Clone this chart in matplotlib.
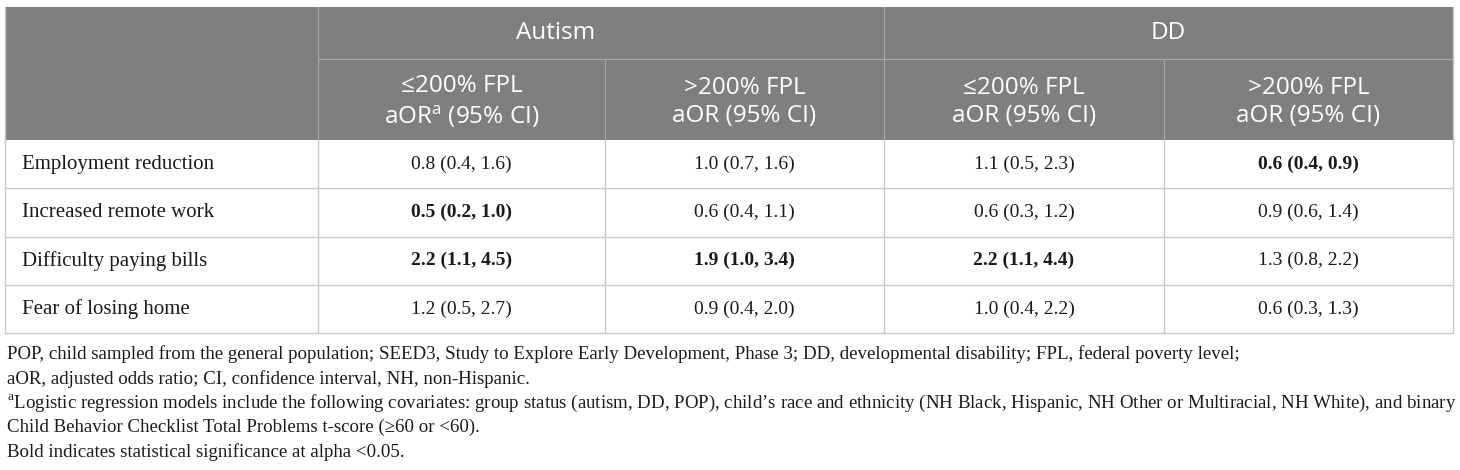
import matplotlib
matplotlib.use("Agg")
import matplotlib.pyplot as plt
from matplotlib.patches import Rectangle

plt.rcParams['mathtext.fontset'] = 'custom'
plt.rcParams['mathtext.rm'] = 'Open Sans'

groups = ["Autism", "DD"]
subheads = [r"≤200% FPL" + "\n" + r"aOR$^{\mathregular{a}}$ (95% CI)",
            ">200% FPL\naOR (95% CI)",
            "≤200% FPL\naOR (95% CI)",
            ">200% FPL\naOR (95% CI)"]
rows = ["Employment reduction", "Increased remote work",
        "Difficulty paying bills", "Fear of losing home"]
aut_low = ["0.8 (0.4, 1.6)", "0.5 (0.2, 1.0)", "2.2 (1.1, 4.5)", "1.2 (0.5, 2.7)"]
aut_high = ["1.0 (0.7, 1.6)", "0.6 (0.4, 1.1)", "1.9 (1.0, 3.4)", "0.9 (0.4, 2.0)"]
dd_low = ["1.1 (0.5, 2.3)", "0.6 (0.3, 1.2)", "2.2 (1.1, 4.4)", "1.0 (0.4, 2.2)"]
dd_high = ["0.6 (0.4, 0.9)", "0.9 (0.6, 1.4)", "1.3 (0.8, 2.2)", "0.6 (0.3, 1.3)"]
bold_aut_low = [False, True, True, False]
bold_aut_high = [False, False, True, False]
bold_dd_low = [False, False, True, False]
bold_dd_high = [True, False, False, False]
footnotes = [
    "POP, child sampled from the general population; SEED3, Study to Explore Early Development, Phase 3; DD, developmental disability; FPL, federal poverty level;",
    "aOR, adjusted odds ratio; CI, confidence interval, NH, non-Hispanic.",
    r"$^{\mathregular{a}}$Logistic regression models include the following covariates: group status (autism, DD, POP), child’s race and ethnicity (NH Black, Hispanic, NH Other or Multiracial, NH White), and binary",
    "Child Behavior Checklist Total Problems t-score (≥60 or <60).",
    "Bold indicates statistical significance at alpha <0.05.",
]

cols = [aut_low, aut_high, dd_low, dd_high]
bolds = [bold_aut_low, bold_aut_high, bold_dd_low, bold_dd_high]

W, H = 1460, 470
fig = plt.figure(figsize=(W / 100, H / 100), dpi=100)
ax = fig.add_axes([0, 0, 1, 1])
ax.set_xlim(0, W)
ax.set_ylim(H, 0)
ax.axis('off')

xs = [5, 318, 605, 884, 1164, 1453]
y_top, y_h1, y_h2 = 7, 59, 140
row_h = 48.3
y_rows = [y_h2 + i * row_h for i in range(len(rows) + 1)]

header_col = '#7f7f7f'
line_col = '#c8c8c8'
hline_col = '#a8a8a8'

ax.add_patch(Rectangle((xs[0], y_top), xs[-1] - xs[0], y_h2 - y_top,
                       facecolor=header_col, edgecolor='none', zorder=1))
# header lines
ax.plot([xs[1], xs[1]], [y_top, y_h2], color=hline_col, lw=0.8, zorder=2)
ax.plot([xs[3], xs[3]], [y_top, y_h2], color=hline_col, lw=0.8, zorder=2)
ax.plot([xs[2], xs[2]], [y_h1, y_h2], color=hline_col, lw=0.8, zorder=2)
ax.plot([xs[4], xs[4]], [y_h1, y_h2], color=hline_col, lw=0.8, zorder=2)
ax.plot([xs[1], xs[-1]], [y_h1, y_h1], color=hline_col, lw=0.8, zorder=2)

# body lines
for x in xs:
    ax.plot([x, x], [y_h2, y_rows[-1]], color=line_col, lw=1.0, zorder=2)
for y in y_rows[1:]:
    ax.plot([xs[0], xs[-1]], [y, y], color=line_col, lw=1.0, zorder=2)
ax.plot([xs[0], xs[0]], [y_top, y_h2], color=line_col, lw=1.0, zorder=2)
ax.plot([xs[-1], xs[-1]], [y_top, y_h2], color=line_col, lw=1.0, zorder=2)

hfont = dict(family='Open Sans', color='white', fontsize=17.5)
group_centers = [556, (xs[3] + xs[5]) / 2]
for g, cx in zip(groups, group_centers):
    ax.text(cx, 33, g, ha='center', va='center', **hfont)
for i, s in enumerate(subheads):
    ax.text((xs[i + 1] + xs[i + 2]) / 2, 102, s,
            ha='center', va='center', linespacing=1.25, **hfont)

bfont = dict(family='Liberation Serif', color='#1a1a1a')
for r, lab in enumerate(rows):
    yc = (y_rows[r] + y_rows[r + 1]) / 2
    ax.text(22, yc, lab, ha='left', va='center', fontsize=15, **bfont)
    for c in range(4):
        ax.text((xs[c + 1] + xs[c + 2]) / 2, yc, cols[c][r], ha='center', va='center',
                fontsize=14, fontweight='bold' if bolds[c][r] else 'normal', **bfont)

fy0, fdy = 354, 24.6
for k, t in enumerate(footnotes):
    ax.text(7, fy0 + k * fdy, t, ha='left', va='center', fontsize=13.6, **bfont)

fig.savefig('out.png', dpi=100, facecolor='white')
